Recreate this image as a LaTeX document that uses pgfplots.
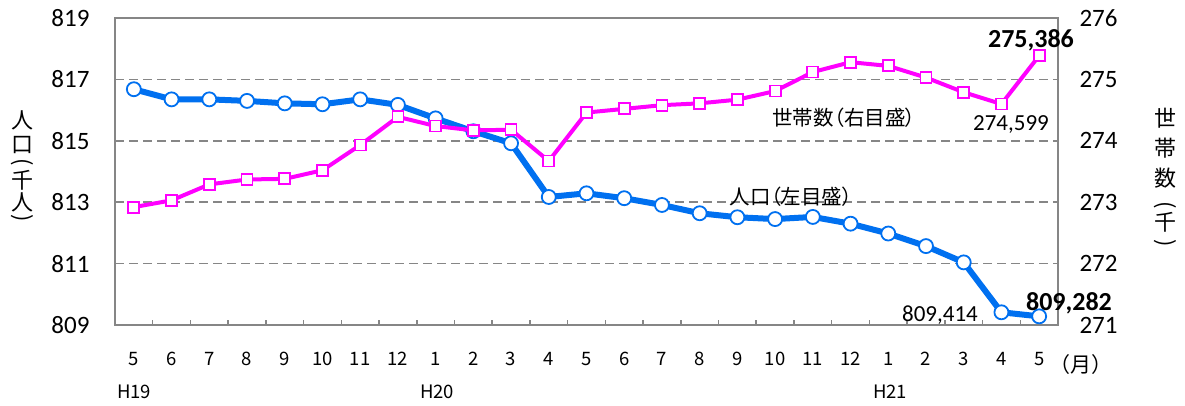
\documentclass[border=0pt]{standalone}
\usepackage{graphicx}
\usepackage{pgfplots}
\pgfplotsset{compat=1.18}
\usepackage{fontspec}
\setmainfont{Carlito}
\newfontfamily\jp{Noto Sans CJK JP}
\newfontfamily\jpp{Noto Sans CJK JP}[RawFeature=+palt]

\definecolor{popblue}{RGB}{0,112,240}
\definecolor{hhmag}{RGB}{255,0,255}
\definecolor{framegray}{RGB}{134,134,134}

\pgfplotstableread{
x y
0 816.68
1 816.35
2 816.35
3 816.30
4 816.22
5 816.19
6 816.35
7 816.17
8 815.73
9 815.31
10 814.92
11 813.17
12 813.29
13 813.13
14 812.91
15 812.64
16 812.51
17 812.45
18 812.52
19 812.30
20 811.98
21 811.57
22 811.04
23 809.414
24 809.282
}\poptable

\pgfplotstableread{
x y
0 272.92
1 273.03
2 273.29
3 273.37
4 273.38
5 273.52
6 273.93
7 274.39
8 274.24
9 274.17
10 274.18
11 273.67
12 274.46
13 274.52
14 274.58
15 274.61
16 274.67
17 274.81
18 275.12
19 275.28
20 275.22
21 275.03
22 274.79
23 274.599
24 275.386
}\hhtable

\begin{document}
\begin{tikzpicture}[x=1pt,y=1pt]
\path[use as bounding box] (0,0) rectangle (1185,405);
\begin{axis}[
  at={(115pt,80pt)}, anchor=south west,
  scale only axis, width=943pt, height=307pt,
  xmin=-0.5, xmax=24.5, ymin=809, ymax=819,
  axis line style={draw=framegray, line width=1.5pt},
  xtick={0,...,24},
  xticklabels={5,6,7,8,9,10,11,12,1,2,3,4,5,6,7,8,9,10,11,12,1,2,3,4,5},
  minor xtick={0.5,1.5,...,23.5},
  major tick length=0pt,
  minor tick length=5pt,
  minor tick style={draw=framegray, line width=1.5pt},
  tick align=inside,
  xtick pos=bottom, ytick pos=left,
  ytick={809,811,...,819},
  ymajorgrids,
  major grid style={draw=framegray, dash pattern=on 9pt off 5pt, line width=1.5pt},
  yticklabel style={font=\fontsize{25}{28}\selectfont, xshift=-22pt},
  xticklabel style={font=\jp\fontsize{18.5}{20}\selectfont, yshift=-24pt},
  /pgf/number format/assume math mode=true,
  clip=false,
]
\addplot[popblue, line width=6pt, mark=*, mark size=7pt,
  mark options={fill=white, draw=popblue, line width=1.8pt}] table[x=x,y=y] {\poptable};
\end{axis}
\begin{axis}[
  at={(115pt,80pt)}, anchor=south west,
  scale only axis, width=943pt, height=307pt,
  xmin=-0.5, xmax=24.5, ymin=271, ymax=276,
  axis x line=none, axis y line*=right,
  axis line style={draw=framegray, line width=1.5pt},
  ytick={271,...,276},
  major tick length=0pt,
  yticklabel style={font=\fontsize{25}{28}\selectfont, xshift=18pt},
  /pgf/number format/assume math mode=true,
  clip=false,
]
\addplot[hhmag, line width=4pt, mark=square*, mark size=5.5pt,
  mark options={fill=white, draw=hhmag, line width=1.8pt}] table[x=x,y=y] {\hhtable};
\end{axis}

% annotations
\node[font=\bfseries\fontsize{26}{28}\selectfont] at (1031,365) {275,386};
\node[font=\fontsize{23}{26}\selectfont] at (1011,280) {274,599};
\node[font=\fontsize{23}{26}\selectfont] at (940,90) {809,414};
\node[font=\bfseries\fontsize{26}{28}\selectfont] at (1069,102) {809,282};
\node[font=\jpp\fontsize{20.5}{22}\selectfont] at (844,287) {世帯数（右目盛）};
\node[font=\jpp\fontsize{20.5}{22}\selectfont] at (791,208) {人口（左目盛）};

% x extra labels
\node[font=\jp\fontsize{18.5}{20}\selectfont] at (134,13) {H19};
\node[font=\jp\fontsize{18.5}{20}\selectfont] at (437,13) {H20};
\node[font=\jp\fontsize{18.5}{20}\selectfont] at (890,13) {H21};
\node[font=\jp\fontsize{21}{22}\selectfont] at (1081,40) {（月）};

% left vertical label
\begin{scope}[every node/.style={font=\jp\fontsize{22}{22}\selectfont, inner sep=0pt}]
\node at (22,285) {人};
\node at (22,260) {口};
\node at (22,243) {\rotatebox{-90}{(}};
\node at (22,225) {千};
\node at (22,203) {人};
\node at (22,187) {\rotatebox{-90}{)}};
% right vertical label
\node at (1165,287) {世};
\node at (1165,257) {帯};
\node at (1165,227) {数};
\node at (1165,200) {\rotatebox{-90}{(}};
\node at (1165,183) {千};
\node at (1165,162) {\rotatebox{-90}{)}};
\end{scope}
\end{tikzpicture}
\end{document}
